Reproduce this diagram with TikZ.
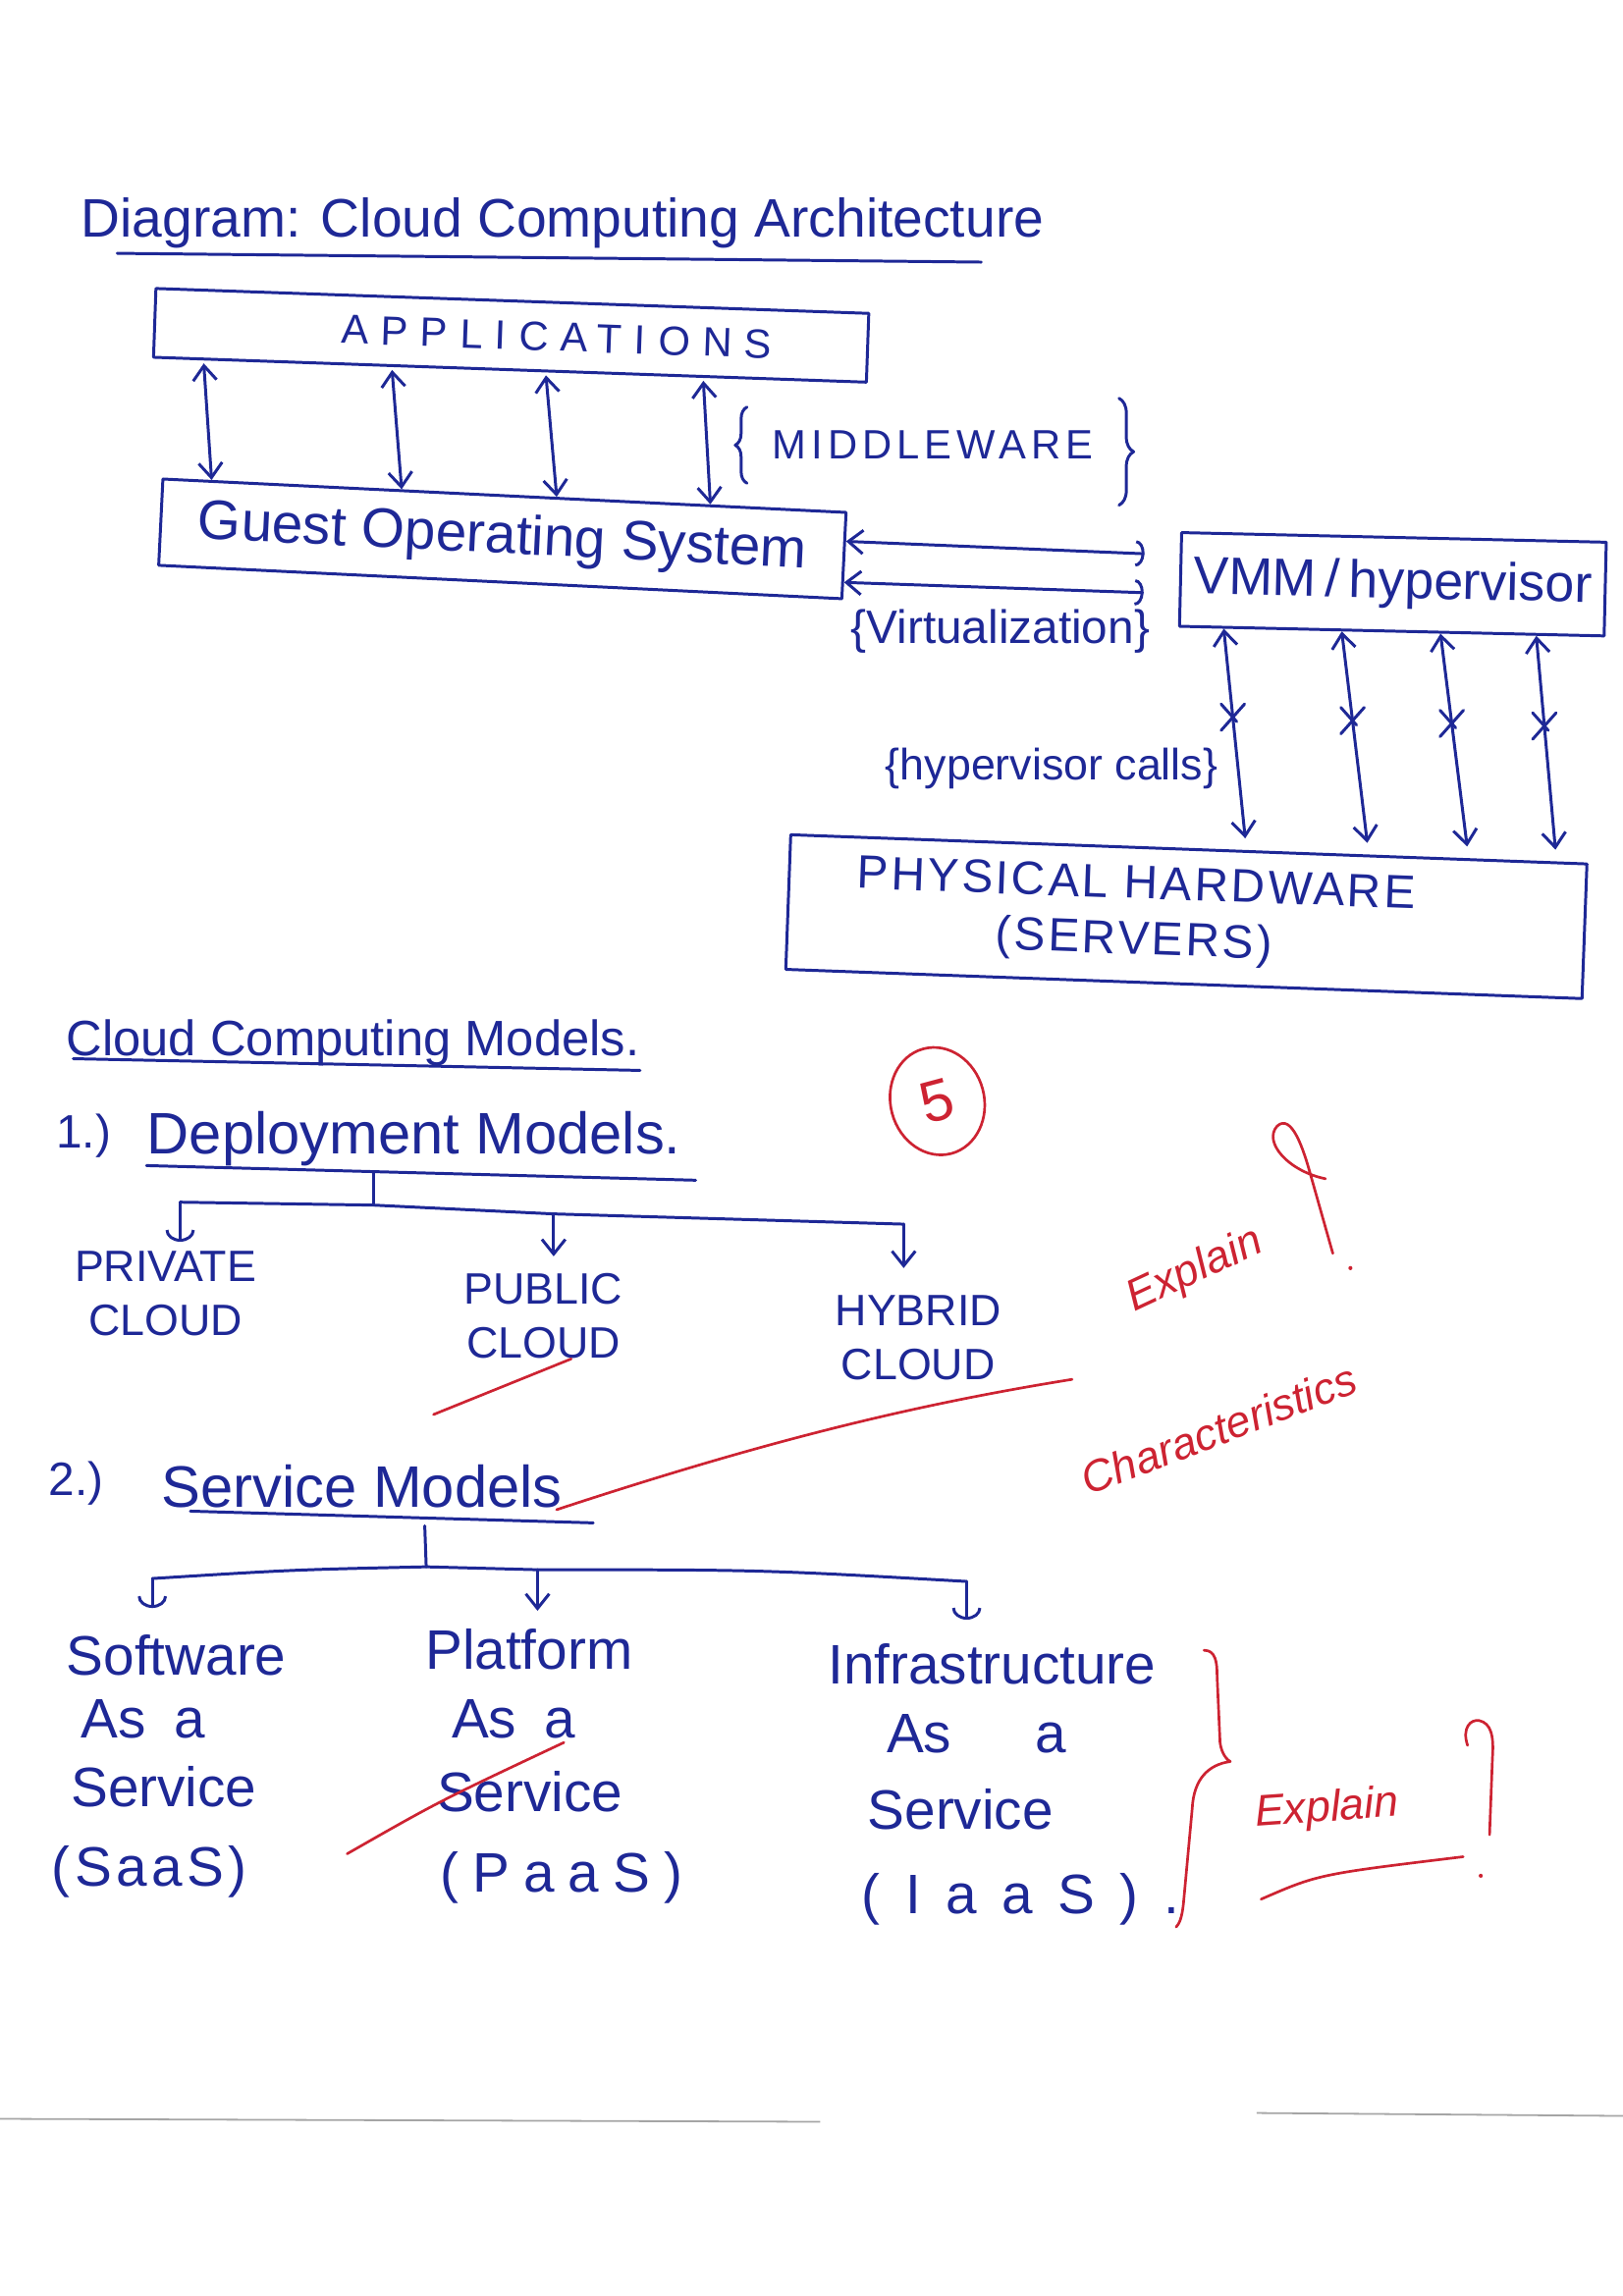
\documentclass[tikz,border=0pt]{standalone}
\usepackage{fontspec}
\setmainfont{Liberation Sans}
\usetikzlibrary{arrows.meta,calc,shapes.misc,shapes.geometric,decorations.pathreplacing}
\definecolor{ink}{RGB}{30,40,150}
\definecolor{redink}{RGB}{205,35,50}
\definecolor{paperedge}{RGB}{165,165,165}

\tikzset{
  pen/.style={draw=ink, line width=1pt, line cap=round, line join=round},
  redpen/.style={draw=redink, line width=0.9pt, line cap=round, line join=round},
  box/.style={pen, rectangle, inner sep=0pt, text=ink},
  hw/.style={text=ink, inner sep=0pt},
  itm/.style={hw, anchor=base west, font=\fontsize{19}{22}\selectfont},
  redtxt/.style={text=redink, inner sep=0pt, font=\itshape\fontsize{15}{18}\selectfont},
  xmark/.style={cross out, draw=ink, line width=1pt, minimum width=7pt, minimum height=8pt, inner sep=0pt},
  ubarb/.style={-{Arc Barb[length=4pt,width=10pt]}},
}

\begin{document}
\begin{tikzpicture}[x=0.5pt, y=-0.5pt, >={Straight Barb[length=5pt,width=8pt]}]
\useasboundingbox (0,0) rectangle (1108,1568);

% ---------- architecture ----------
\node[hw, anchor=west, font=\fontsize{18.5}{22}\selectfont] (title) at (55,152) {Diagram: Cloud Computing Architecture};
\draw[pen] (80,173) -- (670,179);

\node[box, rotate=-2, minimum width=243.5pt, minimum height=23.5pt,
      font=\fontsize{14}{16}\selectfont\addfontfeatures{LetterSpace=30}] (app) at (349,229) {\hspace*{31pt}APPLICATIONS};

\node[box, rotate=-2.8, minimum width=233.5pt, minimum height=29.5pt,
      font=\fontsize{19}{22}\selectfont] (gos) at (343,368) {Guest Operating System};

\node[box, rotate=-1.3, minimum width=145pt, minimum height=32pt,
      font=\fontsize{18}{21}\selectfont] (vmm) at (951,399) {VMM\,/\,hypervisor};

\node[box, rotate=-2.1, minimum width=272pt, minimum height=46pt, align=center,
      font=\fontsize{16}{19}\selectfont\addfontfeatures{LetterSpace=6}] (phys) at (810,626)
      {PHYSICAL HARDWARE\hspace*{35pt}\\(SERVERS)\hspace*{35pt}};

% middleware label with its braces
\node[hw, font=\fontsize{14}{16}\selectfont\addfontfeatures{LetterSpace=12}] (mw) at (637,304) {MIDDLEWARE};
\draw[pen, decorate, decoration={brace, amplitude=4pt}] (510,330) -- (510,278);
\draw[pen, decorate, decoration={brace, amplitude=5pt}] (764,272) -- (764,345);

\node[hw, font=\fontsize{16}{19}\selectfont] (virt) at (683,431) {\{Virtualization\}};
\node[hw, font=\fontsize{15}{18}\selectfont] (hcalls) at (718,525) {\{hypervisor calls\}};

% applications <-> guest OS
\foreach \a/\b in {0.072/0.073, 0.335/0.35, 0.55/0.576, 0.77/0.8}
  \draw[pen, <->, shorten <=1pt] ($(app.south west)!\a!(app.south east)$) -- ($(gos.north west)!\b!(gos.north east)$);

% guest OS <-> hypervisor
\draw[pen, {Straight Barb[length=5pt,width=8pt]}-{Arc Barb[length=3pt,width=9pt]}, shorten >=12pt]
  ($(gos.north east)!0.34!(gos.south east)$) -- ($(vmm.north west)!0.25!(vmm.south west)$);
\draw[pen, {Straight Barb[length=5pt,width=8pt]}-{Arc Barb[length=3pt,width=9pt]}, shorten >=12pt]
  ($(gos.north east)!0.8!(gos.south east)$) -- ($(vmm.north west)!0.65!(vmm.south west)$);

% hypervisor <-> hardware (hypervisor calls)
\foreach \a/\b in {0.107/0.572, 0.383/0.725, 0.614/0.85, 0.838/0.96}
  \draw[pen, <->, shorten >=4pt] ($(vmm.south west)!\a!(vmm.south east)$) -- node[xmark, pos=0.4] {} ($(phys.north west)!\b!(phys.north east)$);

% ---------- models ----------
\node[hw, anchor=west, font=\fontsize{17}{20}\selectfont] (models) at (45,712) {Cloud Computing Models.};
\draw[pen] (50,723) -- (437,731);

\node[draw=redink, line width=0.9pt, ellipse, text=redink, font=\fontsize{20}{22}\selectfont,
      minimum width=32pt, minimum height=37pt, inner sep=0pt, rotate=15] (five) at (640,752) {5};

% deployment models
\node[hw, anchor=west, font=\fontsize{16}{19}\selectfont] (n1) at (38,776) {1.)};
\node[hw, anchor=west, font=\fontsize{20}{23}\selectfont] (dep) at (100,778) {Deployment Models.};
\draw[pen] (100,796) -- (475,806);

\node[hw, anchor=north, align=center, font=\fontsize{15}{18.5}\selectfont] (priv) at (113,854) {PRIVATE\\CLOUD};
\node[hw, anchor=north, align=center, font=\fontsize{15}{18.5}\selectfont] (pub) at (371,869) {PUBLIC\\CLOUD};
\node[hw, anchor=north, align=center, font=\fontsize{15}{18.5}\selectfont] (hyb) at (627,884) {HYBRID\\CLOUD};

\coordinate (d0) at (255,801);
\coordinate (d1) at (255,823);
\coordinate (dL) at (123,821);
\coordinate (dM) at (378,829);
\coordinate (dR) at (617,836);
\draw[pen] (d0) -- (d1);
\draw[pen] (dL) -- (d1) -- (dM) -- (dR);
\draw[pen, ubarb, shorten >=3pt] (dL) -- (dL |- priv.north);
\draw[pen, ->, shorten >=5.5pt] (dM) -- (dM |- pub.north);
\draw[pen, ->, shorten >=9pt] (dR) -- (dR |- hyb.north);

% service models
\node[hw, anchor=west, font=\fontsize{16}{19}\selectfont] (n2) at (33,1013) {2.)};
\node[hw, anchor=west, font=\fontsize{20}{23}\selectfont] (svc) at (110,1015) {Service Models};
\draw[pen] (130,1032) -- (405,1040);

\node[itm] (sw1) at (45,1144) {Software};
\node[itm] (sw2) at (55,1187) {As\enspace a};
\node[itm] (sw3) at (48,1234) {Service};
\node[itm, font=\fontsize{19}{22}\selectfont\addfontfeatures{LetterSpace=8}] (sw4) at (35,1288) {(SaaS)};

\node[itm] (pf1) at (290,1140) {Platform};
\node[itm] (pf2) at (308,1187) {As\enspace a};
\node[itm] (pf3) at (298,1237) {Service};
\node[itm, font=\fontsize{19}{22}\selectfont\addfontfeatures{LetterSpace=25}] (pf4) at (300,1292) {(PaaS)};

\node[itm] (if1) at (565,1150) {Infrastructure};
\node[itm] (if2) at (605,1197) {As\hspace{1.5em}a};
\node[itm] (if3) at (592,1249) {Service};
\node[itm, font=\fontsize{19}{22}\selectfont\addfontfeatures{LetterSpace=45}] (if4) at (588,1307) {(IaaS).};

\coordinate (s0) at (290,1042);
\coordinate (s1) at (291,1070);
\coordinate (sL) at (104,1078);
\coordinate (sM) at (367,1072);
\coordinate (sR) at (660,1080);
\draw[pen] (s0) -- (s1);
\draw[pen] (sL) .. controls (200,1072) .. (s1) -- (sM) .. controls (520,1072) .. (sR);
\draw[pen, ubarb, shorten >=9pt] (sL) -- (sL |- sw1.north);
\draw[pen, ->, shorten >=6pt] (sM) -- (sM |- pf1.north);
\draw[pen, ubarb, shorten >=8pt] (sR) -- (sR |- if1.north);

% ---------- red remarks ----------
\node[redtxt, rotate=25] (ex1) at (816,868) {Explain};
\draw[redpen] (905,805) .. controls (880,800) and (862,780) .. (872,769)
  .. controls (882,760) and (890,785) .. (895,803) -- (910,856);
\fill[redink] (922,866) circle (1.4);

\draw[redpen] (296,966) -- (390,928);
\draw[redpen] (380,1031) .. controls (520,985) and (620,960) .. (732,942);
\node[redtxt, rotate=21] (chr) at (832,976) {Characteristics};

\draw[redpen] (237,1266) .. controls (300,1230) .. (385,1190);

\draw[redpen] (822,1127) .. controls (830,1127) and (831,1135) .. (831,1145) -- (833,1190)
  .. controls (834,1198) and (838,1202) .. (840,1203)
  .. controls (825,1205) and (815,1215) .. (814,1235) -- (808,1300)
  .. controls (807,1310) and (805,1314) .. (803,1316);
\node[redtxt, rotate=4] (ex2) at (906,1236) {Explain};
\draw[redpen] (861,1297) .. controls (900,1280) .. (999,1268);
\draw[redpen] (1002,1192) .. controls (998,1180) and (1004,1174) .. (1010,1175)
  .. controls (1018,1177) and (1020,1185) .. (1019,1200) -- (1017,1253);
\fill[redink] (1011,1281) circle (1.4);

% paper edge
\draw[paperedge, line width=0.6pt] (0,1447) -- (560,1449);
\draw[paperedge, line width=0.6pt] (858,1443) -- (1108,1445);
\end{tikzpicture}
\end{document}
